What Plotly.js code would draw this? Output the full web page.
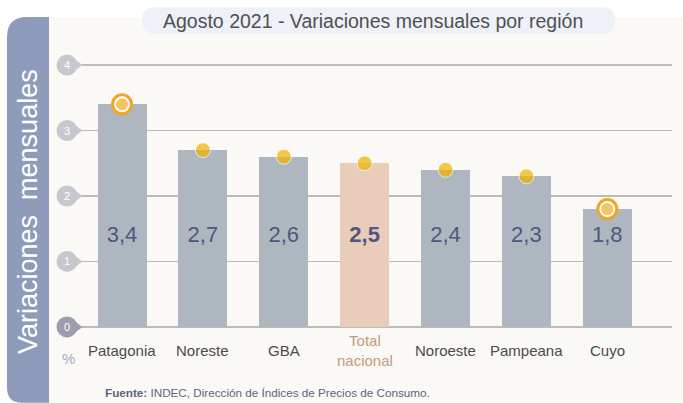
<!DOCTYPE html>
<html>
<head>
<meta charset="utf-8">
<script src="https://cdn.plot.ly/plotly-3.0.1.min.js"></script>
<style>html,body{margin:0;padding:0;background:#fff;}#chart{width:683px;height:403px;}</style>
</head>
<body>
<div id="chart"></div>
<script>
// ---- data ----
const categories = ["Patagonia", "Noreste", "GBA", "Total nacional", "Noroeste", "Pampeana", "Cuyo"];
const categoryLabels = ["Patagonia", "Noreste", "GBA", "Total<br>nacional", "Noroeste", "Pampeana", "Cuyo"];
const values = [3.4, 2.7, 2.6, 2.5, 2.4, 2.3, 1.8];
const totalCategory = "Total nacional";
const yTicks = [0, 1, 2, 3, 4];
const titleText = "Agosto 2021 - Variaciones mensuales por región";
const yTitleText = "Variaciones&nbsp;&nbsp;mensuales";
const sourceText = "<b>Fuente:</b> INDEC, Dirección de Índices de Precios de Consumo.";

// ---- geometry helpers (pixel -> paper) ----
const W = 683, H = 403;
const M = {l: 82, r: 11, t: 51.9, b: 62.9};
const PW = W - M.l - M.r, PH = H - M.t - M.b;
const X = px => (px - M.l) / PW;
const Y = py => (H - M.b - py) / PH;

const fmt = v => v.toFixed(1).replace(".", ",");
const isTotal = categories.map(c => c === totalCategory);
const maxV = Math.max(...values), minV = Math.min(...values);
const ringIdx = values.map((v, i) => (v === maxV || v === minV) ? i : -1).filter(i => i >= 0);
const font = "Liberation Sans, Arial, sans-serif";

const traces = [
  {
    type: "bar", x: categories, y: values, width: 0.606,
    marker: {color: isTotal.map(t => t ? "#E9CDBA" : "#AEB6C0")},
    hoverinfo: "none"
  },
  {
    type: "scatter", mode: "markers",
    x: ringIdx.map(i => categories[i]), y: ringIdx.map(i => values[i]),
    marker: {size: 19, color: "#FFFFFF", line: {color: "#EEA623", width: 3}},
    cliponaxis: false, hoverinfo: "none"
  },
  {
    type: "scatter", mode: "markers", x: categories, y: values,
    marker: {size: values.map((v, i) => ringIdx.includes(i) ? 13 : 15),
             color: values.map((v, i) => ringIdx.includes(i) ? "#EFAE22" : "#F1B200")},
    cliponaxis: false, hoverinfo: "none"
  },
  {
    type: "scatter", mode: "text", x: categories, y: categories.map(() => 1.374),
    text: values.map((v, i) => isTotal[i] ? "<b>" + fmt(v) + "</b>" : fmt(v)),
    textposition: "middle center",
    textfont: {family: font, size: 22, color: "#4F5680"},
    cliponaxis: false, hoverinfo: "none"
  }
];

function roundRectPath(x0, y0, x1, y1, r) {
  const p = (x, y) => X(x) + "," + Y(y);
  return "M" + p(x0 + r, y0) + " L" + p(x1 - r, y0) + " Q" + p(x1, y0) + " " + p(x1, y0 + r) +
         " L" + p(x1, y1 - r) + " Q" + p(x1, y1) + " " + p(x1 - r, y1) +
         " L" + p(x0 + r, y1) + " Q" + p(x0, y1) + " " + p(x0, y1 - r) +
         " L" + p(x0, y0 + r) + " Q" + p(x0, y0) + " " + p(x0 + r, y0) + " Z";
}
function bandPath() {
  const p = (x, y) => X(x) + "," + Y(y);
  return "M" + p(7, 37) + " Q" + p(7, 17) + " " + p(27, 17) + " L" + p(49, 17) + " L" + p(49, 403) +
         " L" + p(22, 403) + " Q" + p(7, 403) + " " + p(7, 388) + " Z";
}

const shapes = [
  {type: "rect", xref: "paper", yref: "paper", x0: X(49), x1: X(683), y0: Y(17), y1: Y(403),
   fillcolor: "#FAF9F5", line: {width: 0}, layer: "below"},
  {type: "path", xref: "paper", yref: "paper", path: bandPath(),
   fillcolor: "#8E9BBA", line: {width: 0}, layer: "below"},
  {type: "path", xref: "paper", yref: "paper", path: roundRectPath(142, 7, 615, 34, 13.5),
   fillcolor: "#EEF1F8", line: {width: 0}, layer: "below"}
];
// plotting-area gridlines only from the tick tip to the right end
// y tick "drop" markers, anchored on the y axis values
yTicks.forEach(t => {
  const col = t === 0 ? "#9E9CAD" : "#C8C7D0";
  shapes.push({
    type: "path", xref: "paper", yref: "y", xsizemode: "pixel", ysizemode: "pixel",
    xanchor: X(67), yanchor: t, path: "M4,-8.5 L15.5,0 L4,8.5 Z",
    fillcolor: col, line: {width: 0}, layer: "above"
  });
  shapes.push({
    type: "circle", xref: "paper", yref: "y", xsizemode: "pixel", ysizemode: "pixel",
    xanchor: X(67), yanchor: t, x0: -10.5, x1: 10.5, y0: -10.5, y1: 10.5,
    fillcolor: col, line: {width: 0}, layer: "above"
  });
});

const annotations = categories.map((c, i) => ({
  x: c, xref: "x", y: Y(351), yref: "paper", yanchor: "middle", xanchor: "center",
  text: categoryLabels[i], showarrow: false,
  font: {family: font, size: 15, color: isTotal[i] ? "#C39C80" : "#4B4B4B"}
}));
yTicks.forEach(t => annotations.push({
  x: X(67), xref: "paper", y: t, yref: "y", xanchor: "center", yanchor: "middle",
  text: String(t), showarrow: false, font: {family: font, size: 11, color: "#FFFFFF"}
}));
annotations.push(
  {x: X(68), y: Y(359), xref: "paper", yref: "paper", xanchor: "center", yanchor: "middle",
   text: "%", showarrow: false, font: {family: font, size: 15, color: "#A3ABC9"}},
  {x: X(373), y: Y(20.5), xref: "paper", yref: "paper", xanchor: "center", yanchor: "middle",
   text: titleText, showarrow: false, font: {family: font, size: 19.5, color: "#505050"}},
  {x: X(28), y: Y(212), xref: "paper", yref: "paper", xanchor: "center", yanchor: "middle",
   text: yTitleText, textangle: -90, showarrow: false,
   font: {family: font, size: 27, color: "#FFFFFF"}},
  {x: X(103), y: Y(393), xref: "paper", yref: "paper", xanchor: "left", yanchor: "middle",
   text: sourceText, showarrow: false, font: {family: font, size: 11.7, color: "#5E6480"}}
);

const layout = {
  width: W, height: H, margin: M,
  paper_bgcolor: "#FFFFFF", plot_bgcolor: "rgba(0,0,0,0)",
  showlegend: false, bargap: 0,
  xaxis: {type: "category", range: [-0.495, 6.80], showgrid: false, zeroline: false,
          showticklabels: false, ticks: "", fixedrange: true},
  yaxis: {range: [-0.2, 4.2], tickvals: yTicks, showgrid: true, gridcolor: "#BEBCB9", gridwidth: 1.5,
          zeroline: false, showticklabels: false, ticks: "", fixedrange: true},
  shapes: shapes, annotations: annotations,
  font: {family: font}
};

Plotly.newPlot("chart", traces, layout, {displayModeBar: false, staticPlot: true});
</script>
</body>
</html>
